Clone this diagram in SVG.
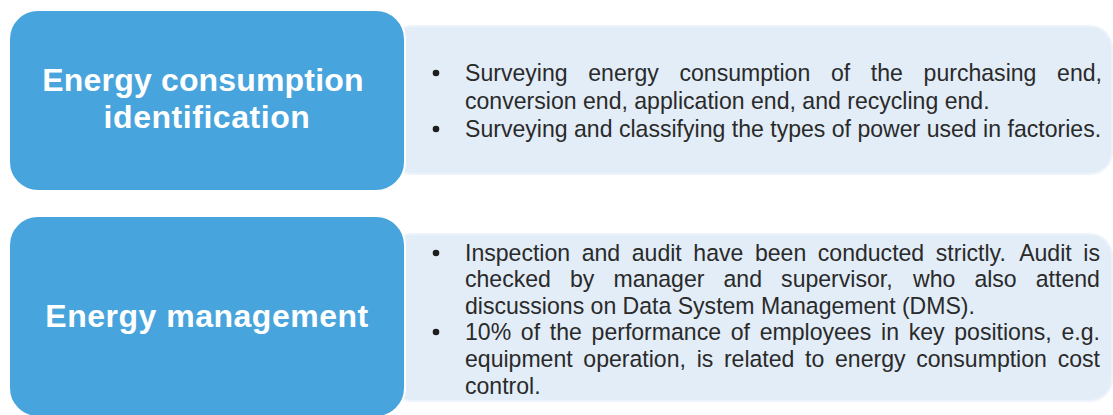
<svg xmlns="http://www.w3.org/2000/svg" width="1113" height="415" viewBox="0 0 1113 415">
  <style>
    .panel { fill: #E2EDF8; stroke: #EEF4FB; stroke-width: 2; }
    .head { fill: #48A4DC; stroke: #FFFFFF; stroke-width: 2; }
    .title { font-family: "Liberation Sans", Arial, sans-serif; font-weight: 700; font-size: 32px; fill: #FFFFFF; text-anchor: middle; }
    .body { font-family: "Liberation Sans", Arial, sans-serif; font-size: 24px; fill: #2A2A2A; }
    .body2 { font-family: "Liberation Sans", Arial, sans-serif; font-size: 23.5px; fill: #2A2A2A; }
    .dot { fill: #1E1E1E; }
  </style>

  <g id="node-identification">
    <rect class="panel" x="390" y="26" width="722" height="148" rx="22" ry="22"/>
    <rect class="head" x="9" y="10" width="396" height="181" rx="29" ry="29"/>
    <text class="title" x="203" y="91" letter-spacing="0.17">Energy consumption</text>
    <text class="title" x="207" y="128" letter-spacing="0.55">identification</text>
    <circle class="dot" cx="436" cy="73" r="3.3"/>
    <circle class="dot" cx="436" cy="129" r="3.3"/>
    <g transform="matrix(0.962 0 0 1 17.67 0)">
      <text class="body" y="81"><tspan x="465">Surveying</tspan><tspan x="593.14">energy</tspan><tspan x="687.94">consumption</tspan><tspan x="845.44">of</tspan><tspan x="886.89">the</tspan><tspan x="941.69">purchasing</tspan><tspan x="1080.5">end,</tspan></text>
      <text class="body" x="465" y="109">conversion end, application end, and recycling end.</text>
      <text class="body" x="465" y="137">Surveying and classifying the types of power used in factories.</text>
    </g>
  </g>

  <g id="node-management">
    <rect class="panel" x="390" y="234" width="722" height="167" rx="22" ry="22"/>
    <rect class="head" x="9" y="216" width="396" height="201" rx="29" ry="29"/>
    <text class="title" x="207" y="327" letter-spacing="0.5">Energy management</text>
    <circle class="dot" cx="436" cy="253" r="3.3"/>
    <circle class="dot" cx="436" cy="332" r="3.3"/>
    <g transform="matrix(0.982 0 0 1 8.37 0)">
      <text class="body2" y="261"><tspan x="465">Inspection</tspan><tspan x="583.87">and</tspan><tspan x="634.83">audit</tspan><tspan x="697.54">have</tspan><tspan x="760.25">been</tspan><tspan x="824.27">conducted</tspan><tspan x="944.46">strictly.</tspan><tspan x="1029.33">Audit</tspan><tspan x="1094.65">is</tspan></text>
      <text class="body2" y="287.3"><tspan x="465">checked</tspan><tspan x="571.92">by</tspan><tspan x="616.15">manager</tspan><tspan x="728.29">and</tspan><tspan x="786.9">supervisor,</tspan><tspan x="921.23">who</tspan><tspan x="983.74">also</tspan><tspan x="1046.25">attend</tspan></text>
      <text class="body2" x="465" y="313.6">discussions on Data System Management (DMS).</text>
      <text class="body2" y="340"><tspan x="465">10%</tspan><tspan x="521.89">of</tspan><tspan x="551.36">the</tspan><tspan x="593.9">performance</tspan><tspan x="735.68">of</tspan><tspan x="765.15">employees</tspan><tspan x="888.64">in</tspan><tspan x="916.79">key</tspan><tspan x="963.23">positions,</tspan><tspan x="1072.36">e.g.</tspan></text>
      <text class="body2" y="367"><tspan x="465">equipment</tspan><tspan x="585.55">operation,</tspan><tspan x="700.88">is</tspan><tspan x="728.68">related</tspan><tspan x="811.35">to</tspan><tspan x="841.78">energy</tspan><tspan x="924.45">consumption</tspan><tspan x="1068.5">cost</tspan></text>
      <text class="body2" x="465" y="393.6">control.</text>
    </g>
  </g>

  <g id="connectors"/>
</svg>
